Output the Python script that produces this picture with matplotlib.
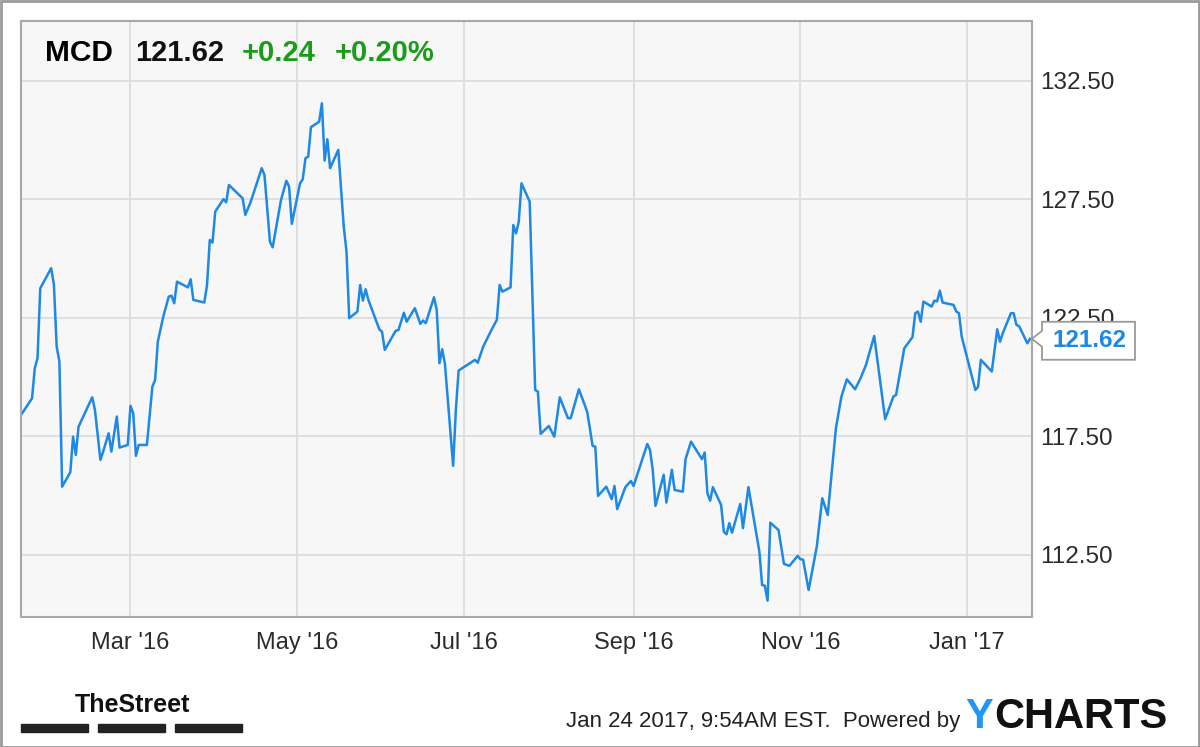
import matplotlib
matplotlib.use("Agg")
import matplotlib.pyplot as plt
import matplotlib.dates as mdates
import matplotlib.patches as mpatches
import matplotlib.transforms as mtransforms
import pandas as pd

# MCD daily close
dates = [
    '2016-01-21', '2016-01-25', '2016-01-26', '2016-01-27', '2016-01-28', '2016-02-01', '2016-02-02', '2016-02-03', '2016-02-04', '2016-02-05',
    '2016-02-08', '2016-02-09', '2016-02-10', '2016-02-11', '2016-02-16', '2016-02-17', '2016-02-19', '2016-02-20', '2016-02-22', '2016-02-23',
    '2016-02-25', '2016-02-26', '2016-02-29', '2016-03-01', '2016-03-02', '2016-03-03', '2016-03-04', '2016-03-07', '2016-03-09', '2016-03-10',
    '2016-03-11', '2016-03-13', '2016-03-15', '2016-03-16', '2016-03-17', '2016-03-18', '2016-03-22', '2016-03-23', '2016-03-24', '2016-03-28',
    '2016-03-29', '2016-03-30', '2016-03-31', '2016-04-01', '2016-04-04', '2016-04-05', '2016-04-06', '2016-04-11', '2016-04-12', '2016-04-14',
    '2016-04-18', '2016-04-19', '2016-04-21', '2016-04-22', '2016-04-25', '2016-04-27', '2016-04-28', '2016-04-29', '2016-05-02', '2016-05-03',
    '2016-05-04', '2016-05-05', '2016-05-06', '2016-05-09', '2016-05-10', '2016-05-11', '2016-05-12', '2016-05-13', '2016-05-16', '2016-05-18',
    '2016-05-19', '2016-05-20', '2016-05-23', '2016-05-24', '2016-05-25', '2016-05-26', '2016-05-27', '2016-05-31', '2016-06-01', '2016-06-02',
    '2016-06-06', '2016-06-07', '2016-06-09', '2016-06-10', '2016-06-13', '2016-06-15', '2016-06-16', '2016-06-17', '2016-06-20', '2016-06-21',
    '2016-06-22', '2016-06-23', '2016-06-24', '2016-06-27', '2016-06-28', '2016-06-29', '2016-07-05', '2016-07-06', '2016-07-08', '2016-07-11',
    '2016-07-13', '2016-07-14', '2016-07-15', '2016-07-18', '2016-07-19', '2016-07-20', '2016-07-21', '2016-07-22', '2016-07-25', '2016-07-27',
    '2016-07-28', '2016-07-29', '2016-08-01', '2016-08-03', '2016-08-05', '2016-08-08', '2016-08-09', '2016-08-12', '2016-08-15', '2016-08-16',
    '2016-08-17', '2016-08-18', '2016-08-19', '2016-08-22', '2016-08-24', '2016-08-25', '2016-08-26', '2016-08-29', '2016-08-31', '2016-09-01',
    '2016-09-06', '2016-09-07', '2016-09-08', '2016-09-09', '2016-09-12', '2016-09-13', '2016-09-15', '2016-09-16', '2016-09-19', '2016-09-20',
    '2016-09-22', '2016-09-26', '2016-09-27', '2016-09-28', '2016-09-29', '2016-09-30', '2016-10-03', '2016-10-04', '2016-10-05', '2016-10-06',
    '2016-10-07', '2016-10-10', '2016-10-11', '2016-10-13', '2016-10-17', '2016-10-18', '2016-10-19', '2016-10-20', '2016-10-21', '2016-10-24',
    '2016-10-26', '2016-10-28', '2016-10-31', '2016-11-01', '2016-11-02', '2016-11-04', '2016-11-07', '2016-11-09', '2016-11-11', '2016-11-14',
    '2016-11-16', '2016-11-18', '2016-11-21', '2016-11-23', '2016-11-25', '2016-11-28', '2016-12-02', '2016-12-05', '2016-12-06', '2016-12-09',
    '2016-12-12', '2016-12-13', '2016-12-14', '2016-12-15', '2016-12-16', '2016-12-19', '2016-12-20', '2016-12-21', '2016-12-22', '2016-12-23',
    '2016-12-27', '2016-12-28', '2016-12-29', '2016-12-30', '2017-01-04', '2017-01-05', '2017-01-06', '2017-01-10', '2017-01-12', '2017-01-13',
    '2017-01-14', '2017-01-17', '2017-01-18', '2017-01-19', '2017-01-20', '2017-01-23', '2017-01-24',
]
prices = [
    118.41, 119.11, 120.38, 120.80, 123.75, 124.60, 123.89, 121.29, 120.66, 115.38,
    115.99, 117.49, 116.72, 117.91, 119.15, 118.62, 116.51, 116.86, 117.63, 116.86,
    118.34, 117.03, 117.14, 118.79, 118.48, 116.68, 117.14, 117.14, 119.60, 119.88,
    121.50, 122.56, 123.40, 123.44, 123.12, 124.03, 123.79, 124.13, 123.26, 123.15,
    123.89, 125.79, 125.68, 126.99, 127.51, 127.38, 128.11, 127.55, 126.85, 127.41,
    128.82, 128.53, 125.72, 125.48, 127.45, 128.29, 128.04, 126.47, 128.18, 128.35,
    129.24, 129.31, 130.55, 130.78, 131.56, 129.14, 130.04, 128.82, 129.59, 126.35,
    125.30, 122.49, 122.77, 123.89, 123.23, 123.71, 123.26, 122.02, 121.92, 121.15,
    121.96, 121.99, 122.72, 122.34, 122.91, 122.25, 122.39, 122.28, 123.37, 122.84,
    120.59, 121.18, 120.56, 116.26, 118.62, 120.28, 120.73, 120.61, 121.29, 121.99,
    122.42, 123.89, 123.61, 123.79, 126.42, 126.07, 126.56, 128.18, 127.41, 119.46,
    119.39, 117.61, 117.94, 117.49, 119.15, 118.27, 118.27, 119.49, 118.55, 117.85,
    117.10, 117.07, 114.99, 115.38, 114.85, 115.41, 114.43, 115.36, 115.62, 115.41,
    117.18, 116.93, 116.09, 114.57, 115.88, 114.71, 116.09, 115.24, 115.17, 116.54,
    117.28, 116.54, 116.82, 115.10, 114.79, 115.36, 114.61, 113.48, 113.37, 113.84,
    113.44, 114.65, 113.63, 115.36, 112.64, 111.23, 111.20, 110.57, 113.86, 113.55,
    112.12, 112.04, 112.46, 112.32, 112.30, 111.02, 112.85, 114.89, 114.19, 117.85,
    119.18, 119.91, 119.49, 119.95, 120.52, 121.74, 118.23, 119.18, 119.25, 121.22,
    121.69, 122.70, 122.77, 122.34, 123.19, 122.98, 123.23, 123.20, 123.65, 123.15,
    123.05, 122.77, 122.70, 121.71, 119.46, 119.60, 120.73, 120.24, 122.02, 121.50,
    121.85, 122.70, 122.70, 122.21, 122.15, 121.43, 121.62,
]

y_ticks = [112.5, 117.5, 122.5, 127.5, 132.5]
x_tick_dates = ['2016-03-01', '2016-05-01', '2016-07-01', '2016-09-01', '2016-11-01', '2017-01-01']
x_tick_labels = ["Mar '16", "May '16", "Jul '16", "Sep '16", "Nov '16", "Jan '17"]

ticker = 'MCD'
last_price = '121.62'
change = '+0.24'
change_pct = '+0.20%'
stamp = 'Jan 24 2017, 9:54AM EST.  Powered by'

line_color = '#1e88e5'
green = '#1a9c1a'

plt.rcParams['font.family'] = ['Liberation Sans', 'DejaVu Sans']

W, H = 1200, 747
fig = plt.figure(figsize=(W / 100, H / 100), dpi=100, facecolor='white')
# axes box in pixels: x 21..1032, y 21..617
ax = fig.add_axes([21 / W, 1 - 617 / H, 1011 / W, 596 / H])
ax.set_facecolor('#f7f7f7')

x = pd.to_datetime(dates)
ax.plot(x, prices, color=line_color, lw=1.8, solid_joinstyle='round')

ax.set_xlim(pd.Timestamp('2016-01-20 23:00'), pd.Timestamp('2017-01-24 17:00'))
ax.set_ylim(109.88, 135.03)

ax.yaxis.tick_right()
ax.set_yticks(y_ticks)
ax.set_yticklabels(['%.2f' % v for v in y_ticks])
ax.set_xticks(pd.to_datetime(x_tick_dates))
ax.set_xticklabels(x_tick_labels)
ax.tick_params(axis='y', length=0, pad=6, labelsize=17.5, labelcolor='#2b2b2b')
ax.tick_params(axis='x', length=0, pad=11, labelsize=17, labelcolor='#2b2b2b')
ax.grid(True, color='#dddddd', lw=1.3)
ax.set_axisbelow(True)
for s in ax.spines.values():
    s.set_color('#a8a8a8')
    s.set_linewidth(1.5)

# header
def px(xp, yp):
    return xp / W, 1 - yp / H

fig.text(*px(45, 61), ticker, fontsize=21.5, fontweight='bold', color='black', va='baseline')
fig.text(*px(135, 61), last_price, fontsize=21, fontweight='bold', color='#111111', va='baseline')
fig.text(*px(242, 61), change, fontsize=21, fontweight='bold', color=green, va='baseline')
fig.text(*px(335, 61), change_pct, fontsize=21, fontweight='bold', color=green, va='baseline')

# last price tag on the right edge
fig.canvas.draw()
tip_x = ax.transAxes.transform((1, 0))[0]
tip_y = ax.transData.transform((mdates.date2num(x[-1]), prices[-1]))[1]
poly = [(tip_x, tip_y), (tip_x + 10, tip_y + 8), (tip_x + 10, tip_y + 17),
        (tip_x + 103, tip_y + 17), (tip_x + 103, tip_y - 21), (tip_x + 10, tip_y - 21),
        (tip_x + 10, tip_y - 8)]
tag = mpatches.Polygon(poly, closed=True, facecolor='white', edgecolor='#9a9a9a',
                       lw=1.3, transform=mtransforms.IdentityTransform())
fig.add_artist(tag)
fig.text((tip_x + 57) / W, (tip_y - 2) / H, '%.2f' % prices[-1], fontsize=17.5,
         fontweight='bold', color=line_color, ha='center', va='center')

# footer: TheStreet logo
fig.text(*px(75, 712), 'TheStreet', fontsize=18, fontweight='bold', color='#111111', va='baseline')
for bx in [21, 98, 175]:
    fig.add_artist(mpatches.Rectangle((bx / W, 1 - 732 / H), 67 / W, 8 / H,
                                      transform=fig.transFigure, color='#222222'))

fig.text(*px(960, 727), stamp, fontsize=16, color='#222222', ha='right', va='baseline')
fig.text(*px(965, 728), 'Y', fontsize=30, fontweight='bold', color='#2196f3', va='baseline')
fig.text(*px(994, 728), 'CHARTS', fontsize=30, fontweight='bold', color='#111111', va='baseline')

# outer frame
fig.add_artist(mpatches.Rectangle((0.5 / W, 0.5 / H), 1 - 1.5 / W, 1 - 1.5 / H, transform=fig.transFigure,
                                  fill=False, edgecolor='#9a9a9a', lw=2))

plt.savefig('out.png', dpi=100, facecolor='white')
